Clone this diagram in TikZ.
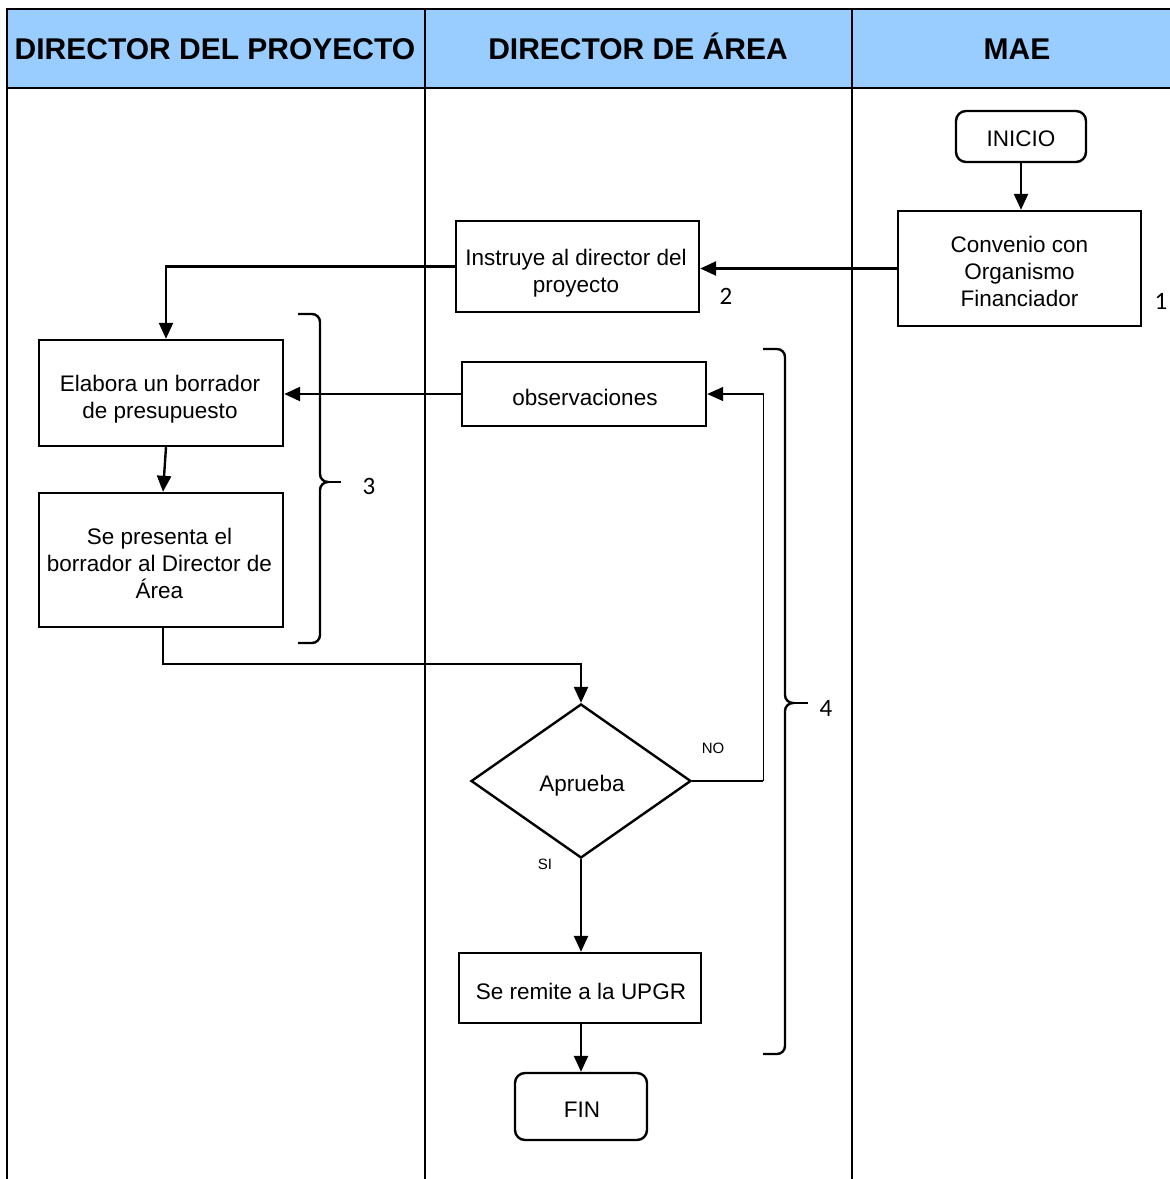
\documentclass[tikz,border=0pt]{standalone}
\usepackage{fontspec}
\setmainfont{Liberation Sans}
\newfontfamily\numfont{Carlito}
\usetikzlibrary{shapes.geometric,arrows.meta}
\definecolor{headblue}{RGB}{153,204,255}

\begin{document}
\begin{tikzpicture}[x=1pt,y=-1pt,
  box/.style={draw,line width=2.4pt,inner sep=0pt},
  term/.style={box,rounded corners=10pt},
  txt/.style={align=center,inner sep=0pt,font=\fontsize{22.5}{27}\selectfont},
  lane/.style={line width=2.5pt},
  flow/.style={line width=2.4pt,-{Triangle[length=16pt,width=14pt]}},
  bracket/.style={line width=2.4pt},
  stepnum/.style={font=\numfont\fontsize{25}{25}\selectfont},
  ans/.style={font=\fontsize{15}{15}\selectfont},
  head/.style={anchor=base,font=\bfseries\fontsize{30}{30}\selectfont}]

\useasboundingbox (0,0) rectangle (1170,1179);
\clip (0,0) rectangle (1170,1179);

% swimlane header and dividers
\fill[headblue] (7,9) rectangle (1172,88);
\draw[lane] (5.75,9) -- (1172,9);
\draw[lane] (7,88) -- (1172,88);
\draw[lane] (7,9) -- (7,1181);
\draw[lane] (425,9) -- (425,1181);
\draw[lane] (852,9) -- (852,1181);

\node[head] (h1) at (215,59) {DIRECTOR DEL PROYECTO};
\node[head] (h2) at (638,59) {DIRECTOR DE ÁREA};
\node[head] (h3) at (1017,59) {MAE};

% process step shapes
\node[term, minimum width=130pt, minimum height=51pt] (inicio) at (1021,136.5) {};
\node[box, minimum width=243pt, minimum height=115pt] (convenio) at (1019.5,268.5) {};
\node[box, minimum width=243pt, minimum height=91pt] (instruye) at (577.5,266.5) {};
\node[box, minimum width=244pt, minimum height=106pt] (elabora) at (161,393) {};
\node[box, minimum width=244pt, minimum height=64pt] (obs) at (584,394) {};
\node[box, minimum width=244pt, minimum height=134pt] (presenta) at (161,560) {};
\node[draw, line width=2.4pt, shape=diamond, inner sep=0pt, minimum width=220pt,
  minimum height=154pt] (aprueba) at (581,781) {};
\node[box, minimum width=242pt, minimum height=70pt] (remite) at (580,988) {};
\node[term, minimum width=132pt, minimum height=67pt] (fin) at (581,1106.5) {};

% step texts
\node[txt] (inicio-t) at (1021,139) {INICIO};
\node[txt] (convenio-t) at (1019.5,271) {Convenio con\\Organismo\\Financiador};
\node[txt] (instruye-t) at (576,273.5) {Instruye al director del\\proyecto};
\node[txt] (elabora-t) at (160,399) {Elabora un borrador\\de presupuesto};
\node[txt] (obs-t) at (585,397) {observaciones};
\node[txt] (presenta-t) at (159.5,563) {Se presenta el\\borrador al Director de\\Área};
\node[txt] (aprueba-t) at (582,786) {Aprueba};
\node[txt] (remite-t) at (581,991.5) {Se remite a la UPGR};
\node[txt] (fin-t) at (582,1110) {FIN};

% connectors
\draw[flow] (inicio.south) -- (inicio.south |- convenio.north);
\draw[flow] (convenio.west) -- (convenio.west -| instruye.east);
\draw[flow] (instruye.west) -| ([xshift=5pt]elabora.north);
\draw[flow] (obs.west) -- (obs.west -| elabora.east);
\draw[flow] ([xshift=5pt]elabora.south) -- ([xshift=2pt]presenta.north);
\draw[flow] ([xshift=2pt]presenta.south) -- ++(0,36) -| (aprueba.north);
\draw[line width=2.4pt] (aprueba.east) -- ++(71,0) coordinate (loop);
\draw[flow, line width=1.3pt] (loop) |- (obs.east);
\draw[flow] (aprueba.south) -- (aprueba.south |- remite.north);
\draw[flow] (remite.south -| fin.north) -- (fin.north);

\node[ans] (no) at (713,748) {NO};
\node[ans] (si) at (545,864) {SI};

% step brackets
\draw[bracket] (298,314) -- (312,314) to[out=0,in=90] (320,322) -- (320,474)
  to[out=-90,in=180] (328,482) to[out=180,in=90] (320,490) -- (320,635)
  to[out=-90,in=0] (312,643) -- (298,643);
\draw[bracket] (328,482) -- (341,482);
\draw[bracket] (763,349) -- (777,349) to[out=0,in=90] (785,357) -- (785,695)
  to[out=-90,in=180] (793,703) to[out=180,in=90] (785,711) -- (785,1046)
  to[out=-90,in=0] (777,1054) -- (763,1054);
\draw[bracket] (793,703) -- (808,703);

\node[stepnum] (n1) at (1161,301) {1};
\node[stepnum] (n2) at (726,296) {2};
\node[stepnum] (n3) at (369,486) {3};
\node[stepnum] (n4) at (826,708) {4};
\end{tikzpicture}
\end{document}
